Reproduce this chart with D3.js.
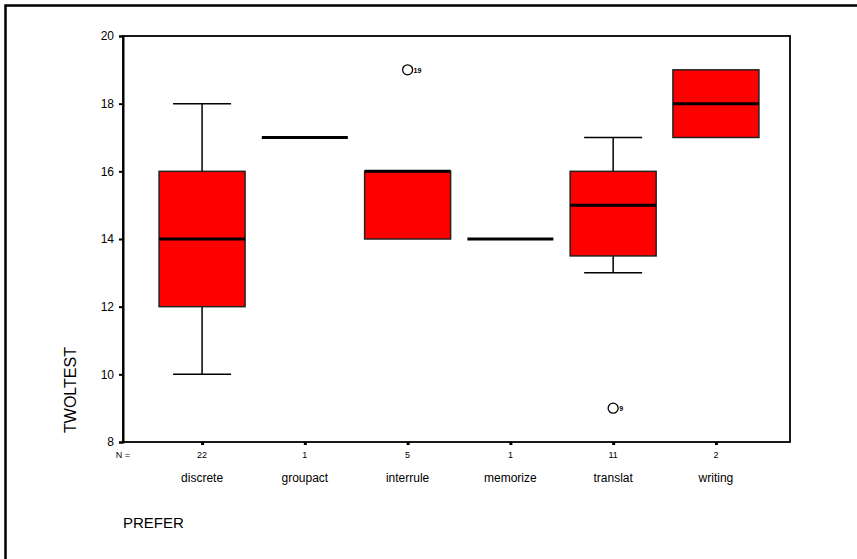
<!DOCTYPE html>
<html>
<head>
<meta charset="utf-8">
<script src="https://cdn.jsdelivr.net/npm/d3@7"></script>
<style>
  body { margin: 0; background: #fff; }
  svg text { font-family: "Liberation Sans", Arial, sans-serif; fill: #000; }
</style>
</head>
<body>
<div id="chart"></div>
<script>
'use strict';

// Data
const categories = ['discrete', 'groupact', 'interrule', 'memorize', 'translat', 'writing'];
const counts = [22, 1, 5, 1, 11, 2];
const q1 = [12, 17, 14, 14, 13.5, 17];
const median = [14, 17, 16, 14, 15, 18];
const q3 = [16, 17, 16, 14, 16, 19];
const whiskerLo = [10, 17, 14, 14, 13, 17];
const whiskerHi = [18, 17, 16, 14, 17, 19];
const outliers = [
  { cat: 'interrule', value: 19, label: '19' },
  { cat: 'translat', value: 9, label: '9' }
];
const yTicks = [8, 10, 12, 14, 16, 18, 20];

const width = 857, height = 559;
const margin = { top: 36, right: 67, bottom: 117, left: 123 };

const svg = d3.select('#chart').append('svg')
  .attr('width', width)
  .attr('height', height);

// outer frame (only left/top visible in the crop)
svg.append('rect')
  .attr('x', 5.5).attr('y', 5.5)
  .attr('width', width + 20).attr('height', height + 20)
  .attr('fill', 'none').attr('stroke', '#000').attr('stroke-width', 2.5);

const x = d3.scalePoint()
  .domain(categories)
  .range([margin.left + 2, width - margin.right + 3])
  .padding(0.75);

const y = d3.scaleLinear()
  .domain([8, 20])
  .range([height - margin.bottom, margin.top]);

const boxW = 86, capW = 58;

// plot frame
svg.append('rect')
  .attr('x', margin.left).attr('y', margin.top)
  .attr('width', width - margin.left - margin.right)
  .attr('height', height - margin.top - margin.bottom)
  .attr('fill', 'none').attr('stroke', '#000').attr('stroke-width', 1.8);

// y axis
const yAxis = svg.append('g')
  .attr('transform', `translate(${margin.left},0)`)
  .call(d3.axisLeft(y).tickValues(yTicks).tickSize(4).tickPadding(5));
yAxis.select('.domain').attr('stroke-width', 2);
yAxis.selectAll('.tick line').attr('stroke-width', 2);
yAxis.selectAll('text').style('font-size', '12px');

// x axis with small tick dots
const xAxis = svg.append('g')
  .attr('transform', `translate(0,${height - margin.bottom})`)
  .call(d3.axisBottom(x).tickSize(3).tickFormat(''));
xAxis.select('.domain').remove();
xAxis.selectAll('.tick line').attr('stroke-width', 3);

// N counts
svg.append('text')
  .attr('x', margin.left).attr('y', 458)
  .attr('text-anchor', 'middle')
  .style('font-size', '9px')
  .text('N =');
svg.selectAll('text.count')
  .data(categories)
  .join('text')
  .classed('count', true)
  .attr('x', d => x(d)).attr('y', 458)
  .attr('text-anchor', 'middle')
  .style('font-size', '9px')
  .text((d, i) => counts[i]);

// category labels
svg.selectAll('text.cat')
  .data(categories)
  .join('text')
  .classed('cat', true)
  .attr('x', d => x(d)).attr('y', 482)
  .attr('text-anchor', 'middle')
  .style('font-size', '12px')
  .text(d => d);

// axis titles
svg.append('text')
  .attr('transform', `translate(76,390) rotate(-90)`)
  .attr('text-anchor', 'middle')
  .style('font-size', '16px')
  .text('TWOLTEST');
svg.append('text')
  .attr('x', 123).attr('y', 528)
  .style('font-size', '15px')
  .text('PREFER');

// boxes
const rows = categories.map((c, i) => ({
  cat: c, q1: q1[i], med: median[i], q3: q3[i], lo: whiskerLo[i], hi: whiskerHi[i]
}));

const g = svg.append('g');
rows.forEach(d => {
  const cx = x(d.cat);
  if (d.hi > d.q3) {
    g.append('line').attr('x1', cx).attr('x2', cx)
      .attr('y1', y(d.q3)).attr('y2', y(d.hi))
      .attr('stroke', '#000').attr('stroke-width', 1.5);
    g.append('line').attr('x1', cx - capW / 2).attr('x2', cx + capW / 2)
      .attr('y1', y(d.hi)).attr('y2', y(d.hi))
      .attr('stroke', '#000').attr('stroke-width', 1.5);
  }
  if (d.lo < d.q1) {
    g.append('line').attr('x1', cx).attr('x2', cx)
      .attr('y1', y(d.q1)).attr('y2', y(d.lo))
      .attr('stroke', '#000').attr('stroke-width', 1.5);
    g.append('line').attr('x1', cx - capW / 2).attr('x2', cx + capW / 2)
      .attr('y1', y(d.lo)).attr('y2', y(d.lo))
      .attr('stroke', '#000').attr('stroke-width', 1.5);
  }
  if (d.q3 > d.q1) {
    g.append('rect')
      .attr('x', cx - boxW / 2).attr('y', y(d.q3))
      .attr('width', boxW).attr('height', y(d.q1) - y(d.q3))
      .attr('fill', '#ff0000').attr('stroke', '#222').attr('stroke-width', 1.5);
  }
  g.append('line')
    .attr('x1', cx - boxW / 2).attr('x2', cx + boxW / 2)
    .attr('y1', y(d.med)).attr('y2', y(d.med))
    .attr('stroke', '#000').attr('stroke-width', 3);
});

// outliers
const og = svg.append('g');
outliers.forEach(o => {
  const cx = x(o.cat);
  og.append('circle')
    .attr('cx', cx).attr('cy', y(o.value)).attr('r', 5)
    .attr('fill', 'none').attr('stroke', '#000').attr('stroke-width', 1.3);
  og.append('text')
    .attr('x', cx + 6).attr('y', y(o.value) + 3)
    .style('font-size', '7px').style('font-weight', 'bold')
    .text(o.label);
});
</script>
</body>
</html>
